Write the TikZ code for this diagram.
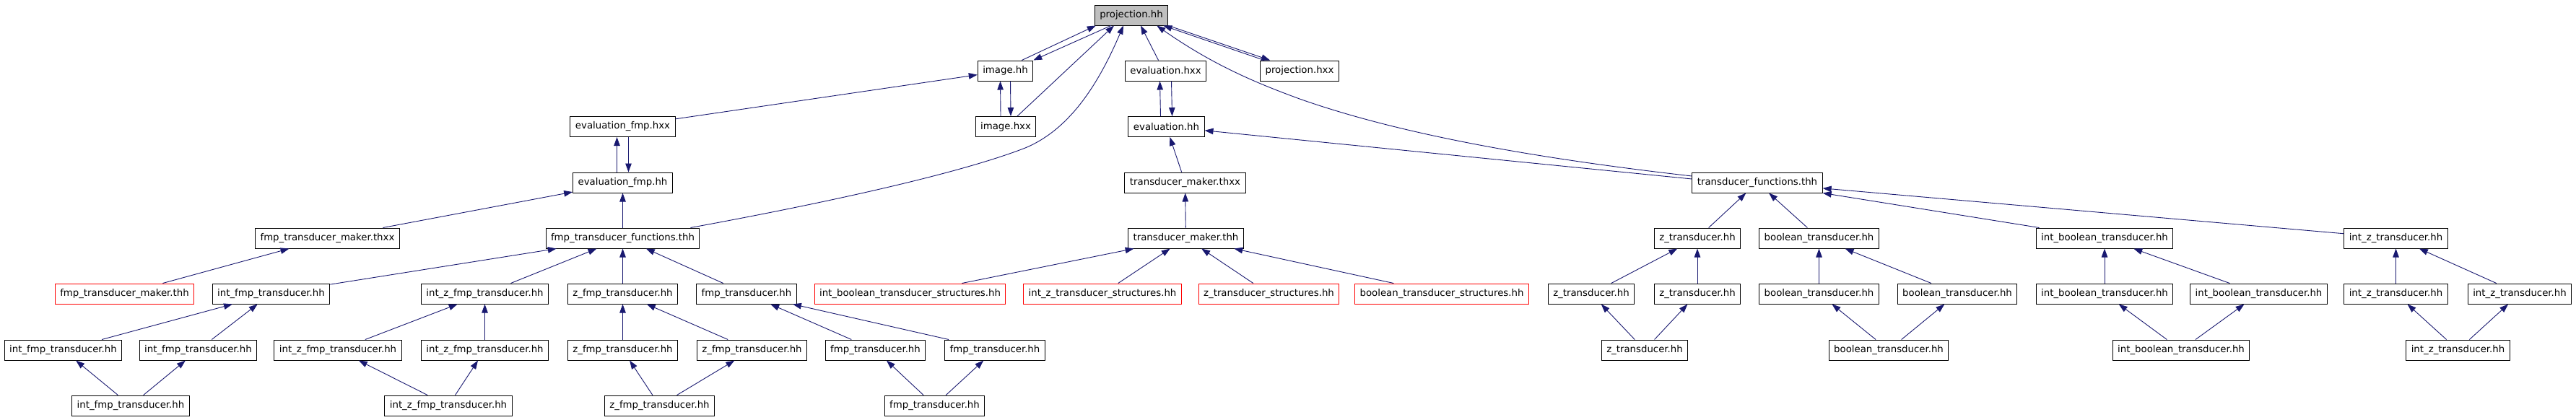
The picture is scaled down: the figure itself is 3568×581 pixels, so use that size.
\documentclass[tikz,border=0pt]{standalone}
\usepackage{fontspec}
\setmainfont{DejaVu Sans}
\usetikzlibrary{arrows.meta}
\definecolor{incblue}{HTML}{191970}
\definecolor{rootgray}{HTML}{BFBFBF}

\begin{document}
\begin{tikzpicture}[x=1pt,y=-1pt,%
% common options for the file boxes:
file/.style = {rectangle, draw, fill=white, line width=1pt, inner xsep=7pt,
            inner ysep=0, minimum height=28pt,
            font=\fontsize{13.3pt}{16pt}\selectfont},
% files without documentation:
nodoc/.style = {file, draw=red},
% common options for the include arrows:
incl/.style = {draw=incblue, line width=0.9pt,
            -{Triangle[length=12pt,width=8.5pt]}}]
\useasboundingbox (0,0) rectangle (3568,581);
% row 0
\node[file,fill=rootgray] (proj) at (1567,21) {projection.hh};
% row 1
\node[file] (img) at (1392.5,98) {image.hh};
\node[file] (evalx) at (1614.5,98) {evaluation.hxx};
\node[file] (projx) at (1800,98) {projection.hxx};
% row 2
\node[file] (efmpx) at (862.5,175.5) {evaluation\_fmp.hxx};
\node[file] (imgx) at (1393,175.5) {image.hxx};
\node[file] (eval) at (1615.5,175.5) {evaluation.hh};
% row 3
\node[file] (efmp) at (862.5,253) {evaluation\_fmp.hh};
\node[file] (tmx) at (1641.5,253) {transducer\_maker.thxx};
\node[file] (tf) at (2434,253) {transducer\_functions.thh};
% row 4
\node[file] (fmx) at (453.5,330) {fmp\_transducer\_maker.thxx};
\node[file] (ftf) at (862.5,330) {fmp\_transducer\_functions.thh};
\node[file] (tm) at (1642.5,330) {transducer\_maker.thh};
\node[file] (z4) at (2351,330) {z\_transducer.hh};
\node[file] (b4) at (2519.5,330) {boolean\_transducer.hh};
\node[file] (ib4) at (2915,330) {int\_boolean\_transducer.hh};
\node[file] (iz4) at (3318.5,330) {int\_z\_transducer.hh};
% row 5
\node[nodoc] (fm) at (172.5,407) {fmp\_transducer\_maker.thh};
\node[file] (if5) at (375.5,407) {int\_fmp\_transducer.hh};
\node[file] (izf5) at (671.5,407) {int\_z\_fmp\_transducer.hh};
\node[file] (zf5) at (862.5,407) {z\_fmp\_transducer.hh};
\node[file] (f5) at (1034,407) {fmp\_transducer.hh};
\node[nodoc] (ibs) at (1260.5,407) {int\_boolean\_transducer\_structures.hh};
\node[nodoc] (izs) at (1527,407) {int\_z\_transducer\_structures.hh};
\node[nodoc] (zs) at (1757.5,407) {z\_transducer\_structures.hh};
\node[nodoc] (bs) at (1997,407) {boolean\_transducer\_structures.hh};
\node[file] (z5a) at (2204,407) {z\_transducer.hh};
\node[file] (z5b) at (2351,407) {z\_transducer.hh};
\node[file] (b5a) at (2519.5,407) {boolean\_transducer.hh};
\node[file] (b5b) at (2711,407) {boolean\_transducer.hh};
\node[file] (ib5a) at (2915,407) {int\_boolean\_transducer.hh};
\node[file] (ib5b) at (3128.5,407) {int\_boolean\_transducer.hh};
\node[file] (iz5a) at (3318.5,407) {int\_z\_transducer.hh};
\node[file] (iz5b) at (3490,407) {int\_z\_transducer.hh};
% row 6
\node[file] (if6a) at (87.5,485) {int\_fmp\_transducer.hh};
\node[file] (if6b) at (274.5,485) {int\_fmp\_transducer.hh};
\node[file] (izf6a) at (468,485) {int\_z\_fmp\_transducer.hh};
\node[file] (izf6b) at (671.5,485) {int\_z\_fmp\_transducer.hh};
\node[file] (zf6a) at (862.5,485) {z\_fmp\_transducer.hh};
\node[file] (zf6b) at (1041.5,485) {z\_fmp\_transducer.hh};
\node[file] (f6a) at (1212.5,485) {fmp\_transducer.hh};
\node[file] (f6b) at (1378,485) {fmp\_transducer.hh};
\node[file] (z6) at (2278,485) {z\_transducer.hh};
\node[file] (b6) at (2616,485) {boolean\_transducer.hh};
\node[file] (ib6) at (3021,485) {int\_boolean\_transducer.hh};
\node[file] (iz6) at (3404.5,485) {int\_z\_transducer.hh};
% row 7
\node[file] (if7) at (181,562) {int\_fmp\_transducer.hh};
\node[file] (izf7) at (621,562) {int\_z\_fmp\_transducer.hh};
\node[file] (zf7) at (913.5,562) {z\_fmp\_transducer.hh};
\node[file] (f7) at (1294.5,562) {fmp\_transducer.hh};
% top part
\draw[incl] ([xshift=-16pt]img.north east) -- ([xshift=2pt]proj.south west);
\draw[incl] ([xshift=23pt]proj.south west) -- (img.north east);
\draw[incl] ([xshift=16pt]imgx.north) -- ([xshift=-24pt]proj.south);
\draw[incl] ([xshift=-7pt]imgx.north) -- ([xshift=-7pt]img.south);
\draw[incl] ([xshift=7pt]img.south) -- ([xshift=7pt]imgx.north);
\draw[incl] (efmpx) -- (img);
\draw[incl] ([xshift=-10pt]evalx.north) -- ([xshift=13pt]proj.south);
\draw[incl] ([xshift=-8pt]eval.north) -- ([xshift=-8pt]evalx.south);
\draw[incl] ([xshift=8pt]evalx.south) -- ([xshift=8pt]eval.north);
\draw[incl] (proj.south east) -- ([xshift=14pt]projx.north west);
\draw[incl] ([xshift=6pt]projx.north west) -- ([xshift=-7pt]proj.south east);
\draw[incl] ([yshift=9pt]tf.west) .. controls (2150,222) and (1950,190) .. (1800,137)
    .. controls (1740,115) and (1680,90) .. ([xshift=-16pt]proj.south east);
\draw[incl] ([yshift=5pt]tf.west) -- (eval);
\draw[incl] ([xshift=-13pt]ftf.north east) .. controls (1150,280) and (1330,240) .. (1420,205)
    .. controls (1480,180) and (1520,120) .. ([xshift=-11pt]proj.south);
\draw[incl] (tmx) -- (eval);
\draw[incl] (tm) -- (tmx);
% fmp part
\draw[incl] ([xshift=-8pt]efmp.north) -- ([xshift=-8pt]efmpx.south);
\draw[incl] ([xshift=8pt]efmpx.south) -- ([xshift=8pt]efmp.north);
\draw[incl] (ftf) -- (efmp);
\draw[incl] (fmx) -- (efmp);
\draw[incl] (fm) -- (fmx);
\draw[incl] (if5) -- (ftf);
\draw[incl] (izf5) -- (ftf);
\draw[incl] (zf5) -- (ftf);
\draw[incl] (f5) -- (ftf);
\draw[incl] (if6a) -- (if5);
\draw[incl] (if6b) -- (if5);
\draw[incl] (if7) -- (if6a);
\draw[incl] (if7) -- (if6b);
\draw[incl] (izf6a) -- (izf5);
\draw[incl] (izf6b) -- (izf5);
\draw[incl] (izf7) -- (izf6a);
\draw[incl] (izf7) -- (izf6b);
\draw[incl] (zf6a) -- (zf5);
\draw[incl] (zf6b) -- (zf5);
\draw[incl] (zf7) -- (zf6a);
\draw[incl] (zf7) -- (zf6b);
\draw[incl] (f6a) -- (f5);
\draw[incl] (f6b) -- (f5);
\draw[incl] (f7) -- (f6a);
\draw[incl] (f7) -- (f6b);
% transducer part
\draw[incl] (ibs) -- (tm);
\draw[incl] (izs) -- (tm);
\draw[incl] (zs) -- (tm);
\draw[incl] (bs) -- (tm);
\draw[incl] (z4) -- (tf);
\draw[incl] (b4) -- (tf);
\draw[incl] (ib4) -- (tf);
\draw[incl] (iz4) -- (tf);
\draw[incl] (z5a) -- (z4);
\draw[incl] (z5b) -- (z4);
\draw[incl] (z6) -- (z5a);
\draw[incl] (z6) -- (z5b);
\draw[incl] (b5a) -- (b4);
\draw[incl] (b5b) -- (b4);
\draw[incl] (b6) -- (b5a);
\draw[incl] (b6) -- (b5b);
\draw[incl] (ib5a) -- (ib4);
\draw[incl] (ib5b) -- (ib4);
\draw[incl] (ib6) -- (ib5a);
\draw[incl] (ib6) -- (ib5b);
\draw[incl] (iz5a) -- (iz4);
\draw[incl] (iz5b) -- (iz4);
\draw[incl] (iz6) -- (iz5a);
\draw[incl] (iz6) -- (iz5b);
\end{tikzpicture}
\end{document}
